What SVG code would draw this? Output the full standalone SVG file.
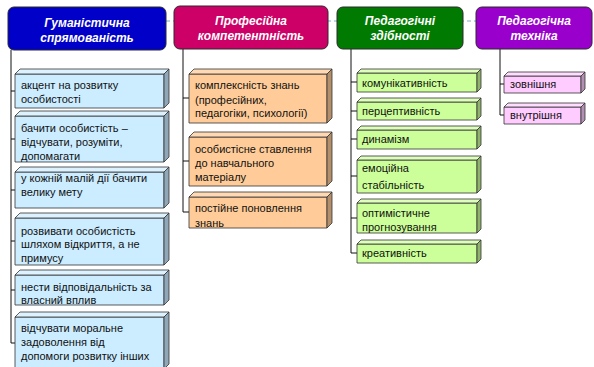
<svg xmlns="http://www.w3.org/2000/svg" width="594" height="367" viewBox="0 0 594 367">
<style>
.hdr{stroke:#2a2a2a;stroke-width:1}
.ht{font-family:"Liberation Sans",Arial,sans-serif;font-size:12px;font-weight:bold;font-style:italic;fill:#fff;text-anchor:middle}
.t{font-family:"Liberation Sans",Arial,sans-serif;font-size:11px;fill:#111}
.e{stroke:#333;stroke-width:0.8;stroke-linejoin:round}
.bf{fill:#CCECFF}.bt{fill:#DDF2FF}.bs{fill:#8FA7B8}
.of{fill:#FFCC99}.ot{fill:#FFD9B3}.os{fill:#B38F6B}
.gf{fill:#CCFF99}.gt{fill:#DDFFBB}.gs{fill:#8FB36B}
.pf{fill:#FFCCFF}.pt{fill:#FFDDFF}.ps{fill:#B38FB3}
.ln{fill:none;stroke:#111;stroke-width:1}
.dash{fill:none;stroke:#A9C8DE;stroke-width:1.5;stroke-dasharray:4 3}
</style>
<rect width="594" height="367" fill="#fff"/>
<g id="connectors">
<line class="dash" x1="166" y1="21" x2="476" y2="21"/>
<path class="ln" d="M11,50 V343 H15 M11,91 H15 M11,139 H15 M11,190 H15 M11,241 H15 M11,290 H15"/>
<path class="ln" d="M183,49 V212 H189 M183,98 H189 M183,161 H189"/>
<path class="ln" d="M351,49 V253 H357 M351,82 H357 M351,111 H357 M351,139 H357 M351,176 H357 M351,218 H357"/>
<path class="ln" d="M500,49 V115 H504 M500,84 H504"/>
</g>
<g id="h1"><rect class="hdr" x="8" y="7" width="158" height="43" rx="6" fill="#0000C8"/><text class="ht" x="87" y="27">Гуманістична</text><text class="ht" x="87" y="42">спрямованість</text></g>
<g id="h2"><rect class="hdr" x="174" y="6" width="154" height="43" rx="6" fill="#CC0066"/><text class="ht" x="251" y="25">Професійна</text><text class="ht" x="251" y="40">компетентність</text></g>
<g id="h3"><rect class="hdr" x="337" y="7" width="126" height="42" rx="6" fill="#007A00"/><text class="ht" x="400" y="25">Педагогічні</text><text class="ht" x="400" y="40">здібності</text></g>
<g id="h4"><rect class="hdr" x="476" y="7" width="116" height="42" rx="6" fill="#9900CC"/><text class="ht" x="534" y="25">Педагогічна</text><text class="ht" x="534" y="40">техніка</text></g>

<g id="b1"><rect class="e bf" x="15" y="74" width="149" height="34"/><polygon class="e bt" points="15,74 20,69 169,69 164,74"/><polygon class="e bs" points="164,74 169,69 169,103 164,108"/><text class="t" x="21" y="89">акцент на розвитку</text><text class="t" x="21" y="103">особистості</text></g>
<g id="b2"><rect class="e bf" x="15" y="116" width="149" height="46"/><polygon class="e bt" points="15,116 20,111 169,111 164,116"/><polygon class="e bs" points="164,116 169,111 169,157 164,162"/><text class="t" x="21" y="132">бачити особистість –</text><text class="t" x="21" y="146">відчувати, розуміти,</text><text class="t" x="21" y="160">допомагати</text></g>
<g id="b3"><rect class="e bf" x="15" y="172" width="149" height="36"/><polygon class="e bt" points="15,172 20,167 169,167 164,172"/><polygon class="e bs" points="164,172 169,167 169,203 164,208"/><text class="t" x="21" y="182">у кожній малій дії бачити</text><text class="t" x="21" y="196">велику мету</text></g>
<g id="b4"><rect class="e bf" x="15" y="218" width="149" height="47"/><polygon class="e bt" points="15,218 20,213 169,213 164,218"/><polygon class="e bs" points="164,218 169,213 169,260 164,265"/><text class="t" x="21" y="235">розвивати особистість</text><text class="t" x="21" y="248">шляхом відкриття, а не</text><text class="t" x="21" y="262">примусу</text></g>
<g id="b5"><rect class="e bf" x="15" y="275" width="149" height="30"/><polygon class="e bt" points="15,275 20,270 169,270 164,275"/><polygon class="e bs" points="164,275 169,270 169,300 164,305"/><text class="t" x="21" y="291">нести відповідальність за</text><text class="t" x="21" y="304">власний вплив</text></g>
<g id="b6"><rect class="e bf" x="15" y="317" width="149" height="52"/><polygon class="e bt" points="15,317 20,312 169,312 164,317"/><polygon class="e bs" points="164,317 169,312 169,364 164,369"/><text class="t" x="21" y="332">відчувати моральне</text><text class="t" x="21" y="346">задоволення від</text><text class="t" x="21" y="360">допомоги розвитку інших</text></g>

<g id="o1"><rect class="e of" x="189" y="74" width="138" height="49"/><polygon class="e ot" points="189,74 194,69 332,69 327,74"/><polygon class="e os" points="327,74 332,69 332,118 327,123"/><text class="t" x="195" y="89">комплексність знань</text><text class="t" x="195" y="104">(професійних,</text><text class="t" x="195" y="117">педагогіки, психології)</text></g>
<g id="o2"><rect class="e of" x="189" y="137" width="138" height="49"/><polygon class="e ot" points="189,137 194,132 332,132 327,137"/><polygon class="e os" points="327,137 332,132 332,181 327,186"/><text class="t" x="195" y="153">особистісне ставлення</text><text class="t" x="195" y="167">до навчального</text><text class="t" x="195" y="181">матеріалу</text></g>
<g id="o3"><rect class="e of" x="189" y="197" width="138" height="31"/><polygon class="e ot" points="189,197 194,192 332,192 327,197"/><polygon class="e os" points="327,197 332,192 332,223 327,228"/><text class="t" x="195" y="212">постійне поновлення</text><text class="t" x="195" y="227">знань</text></g>

<g id="g1"><rect class="e gf" x="357" y="73" width="120" height="19"/><polygon class="e gt" points="357,73 361,69 481,69 477,73"/><polygon class="e gs" points="477,73 481,69 481,88 477,92"/><text class="t" x="362" y="87">комунікативність</text></g>
<g id="g2"><rect class="e gf" x="357" y="102" width="120" height="18"/><polygon class="e gt" points="357,102 361,98 481,98 477,102"/><polygon class="e gs" points="477,102 481,98 481,116 477,120"/><text class="t" x="362" y="115">перцептивність</text></g>
<g id="g3"><rect class="e gf" x="357" y="130" width="120" height="19"/><polygon class="e gt" points="357,130 361,126 481,126 477,130"/><polygon class="e gs" points="477,130 481,126 481,145 477,149"/><text class="t" x="362" y="143">динамізм</text></g>
<g id="g4"><rect class="e gf" x="357" y="160" width="120" height="33"/><polygon class="e gt" points="357,160 361,156 481,156 477,160"/><polygon class="e gs" points="477,160 481,156 481,189 477,193"/><text class="t" x="362" y="172">емоційна</text><text class="t" x="362" y="189">стабільність</text></g>
<g id="g5"><rect class="e gf" x="357" y="203" width="120" height="30"/><polygon class="e gt" points="357,203 361,199 481,199 477,203"/><polygon class="e gs" points="477,203 481,199 481,229 477,233"/><text class="t" x="362" y="217">оптимістичне</text><text class="t" x="362" y="231">прогнозування</text></g>
<g id="g6"><rect class="e gf" x="357" y="244" width="120" height="19"/><polygon class="e gt" points="357,244 361,240 481,240 477,244"/><polygon class="e gs" points="477,244 481,240 481,259 477,263"/><text class="t" x="362" y="257">креативність</text></g>

<g id="p1"><rect class="e pf" x="504" y="76" width="77" height="17"/><polygon class="e pt" points="504,76 508,72 585,72 581,76"/><polygon class="e ps" points="581,76 585,72 585,89 581,93"/><text class="t" x="510" y="88">зовнішня</text></g>
<g id="p2"><rect class="e pf" x="504" y="107" width="77" height="17"/><polygon class="e pt" points="504,107 508,103 585,103 581,107"/><polygon class="e ps" points="581,107 585,103 585,120 581,124"/><text class="t" x="510" y="119">внутрішня</text></g>
</svg>
